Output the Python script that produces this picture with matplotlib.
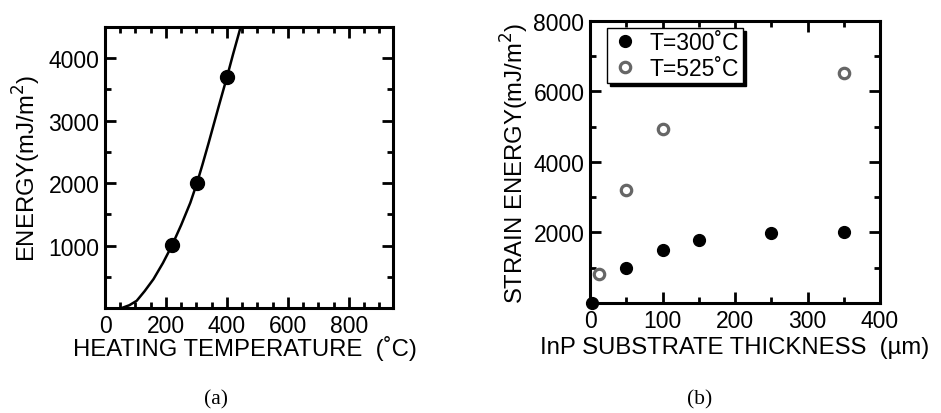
import matplotlib
matplotlib.use("Agg")
import matplotlib.pyplot as plt
from matplotlib.ticker import MultipleLocator, FixedLocator

plt.rcParams['font.family'] = ['Liberation Sans', 'DejaVu Sans']

# Panel (a) data
temp_pts = [219, 301, 400]
energy_pts = [1010, 2000, 3695]
curve_temp = [55, 80, 104, 130, 159, 190, 219, 250, 280, 302, 320, 340, 373, 400, 420, 444]
curve_energy = [0, 45, 116, 270, 462, 720, 994, 1330, 1686, 2005, 2300, 2643, 3227, 3695, 4060, 4480]

# Panel (b) data
thick_300 = [3, 50, 100, 150, 250, 350]
energy_300 = [0, 985, 1515, 1800, 1980, 2005]
thick_525 = [12, 50, 100, 350]
energy_525 = [815, 3200, 4945, 6525]

FS = 16.5
LFS = 17.2
fig = plt.figure(figsize=(9.41, 4.14), dpi=100)

def style(ax):
    for s in ax.spines.values():
        s.set_linewidth(2.2)
    ax.tick_params(which='both', direction='in', top=True, right=True, width=2.0,
                   labelsize=FS, pad=4)
    ax.tick_params(which='major', length=8)
    ax.tick_params(which='minor', length=4.5)

# Panel (a)
axa = fig.add_axes([0.1116, 0.2536, 0.306, 0.6787])
axa.plot(curve_temp, curve_energy, color='black', lw=1.8, solid_capstyle='round')
axa.plot(temp_pts, energy_pts, 'o', color='black', ms=10)
axa.set_xlim(0, 945)
axa.set_ylim(0, 4500)
axa.xaxis.set_major_locator(FixedLocator([0, 200, 400, 600, 800]))
axa.xaxis.set_minor_locator(MultipleLocator(50))
axa.yaxis.set_major_locator(FixedLocator([1000, 2000, 3000, 4000]))
axa.yaxis.set_minor_locator(MultipleLocator(500))
style(axa)
axa.set_ylabel('ENERGY(mJ/m$^2$)', fontsize=LFS, labelpad=4)
axa.set_xlabel('HEATING TEMPERATURE  (˚C)', fontsize=LFS, labelpad=3)
axa.xaxis.set_label_coords(0.485, -0.095)

# Panel (b)
axb = fig.add_axes([0.627, 0.2657, 0.3082, 0.6812])
axb.plot(thick_300, energy_300, 'o', color='black', ms=8.5, clip_on=False, zorder=5,
         label='T=300˚C')
axb.plot(thick_525, energy_525, 'o', mfc='white', mec='#666666', mew=2.3, ms=7.5,
         clip_on=False, zorder=5, label='T=525˚C')
axb.set_xlim(0, 400)
axb.set_ylim(0, 8000)
axb.xaxis.set_major_locator(MultipleLocator(100))
axb.xaxis.set_minor_locator(MultipleLocator(50))
axb.yaxis.set_major_locator(FixedLocator([2000, 4000, 6000, 8000]))
axb.yaxis.set_minor_locator(MultipleLocator(1000))
style(axb)
axb.set_ylabel('STRAIN ENERGY(mJ/m$^2$)', fontsize=LFS, labelpad=2)
axb.set_xlabel('InP SUBSTRATE THICKNESS  (µm)', fontsize=LFS, labelpad=3)
leg = axb.legend(loc='upper left', bbox_to_anchor=(0.06, 0.975), fontsize=FS,
                 frameon=True, fancybox=False, shadow={'color': 'black', 'alpha': 1},
                 handletextpad=0.5, borderpad=0.15, labelspacing=0.1,
                 handlelength=1.2, borderaxespad=0)
leg.get_frame().set_edgecolor('black')
leg.get_frame().set_linewidth(1.0)

fig.text(0.2295, 0.022, '(a)', family='Liberation Serif', fontsize=15.5, ha='center')
fig.text(0.744, 0.022, '(b)', family='Liberation Serif', fontsize=15.5, ha='center')

fig.savefig('out.png', dpi=100)
